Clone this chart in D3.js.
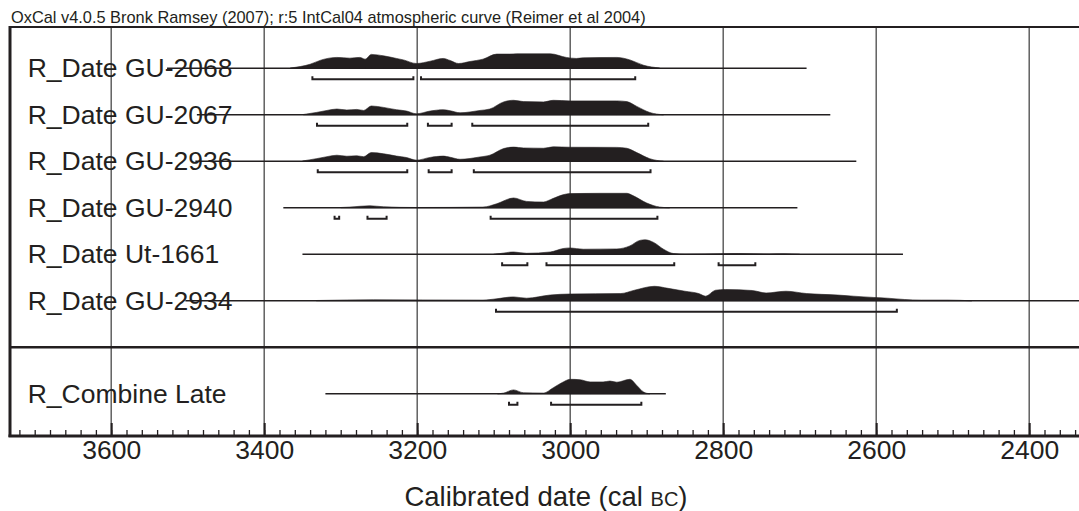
<!DOCTYPE html>
<html><head><meta charset="utf-8">
<script src="https://cdn.jsdelivr.net/npm/d3@7/dist/d3.min.js"></script>
<style>html,body{margin:0;padding:0;background:#fff;}svg{display:block;font-family:"Liberation Sans",Arial,Helvetica,sans-serif;}</style>
</head><body><svg id="c" width="1079" height="511"></svg>
<script>
// ---------- data (years cal BC, relative probability 0..1) ----------
const titleText = "OxCal v4.0.5 Bronk Ramsey (2007); r:5 IntCal04 atmospheric curve (Reimer et al 2004)";
const rowLabels = ["R_Date GU-2068","R_Date GU-2067","R_Date GU-2936","R_Date GU-2940","R_Date Ut-1661","R_Date GU-2934","","R_Combine Late"];
const majorTicks = [3600,3400,3200,3000,2800,2600,2400];
const lineStart = [3527,3488,3490,3375,3350,3503,null,3320];
const lineEnd   = [2691,2660,2626,2703,2565,2300,null,2875];

const dens_GU2068 = [[3366,0.02],[3340,0.28],[3325,0.58],[3305,0.75],[3288,0.70],[3275,0.75],[3268,0.63],[3260,0.96],[3244,0.86],[3227,0.68],[3218,0.58],[3201,0.33],[3183,0.49],[3166,0.68],[3157,0.54],[3146,0.33],[3131,0.47],[3114,0.63],[3096,0.98],[3079,0.98],[3070,1.0],[3026,1.0],[3005,0.75],[2992,0.68],[2983,0.72],[2939,0.75],[2922,0.58],[2904,0.21],[2883,0.02]];
const dens_GU2067 = [[3349,0.02],[3332,0.16],[3318,0.30],[3305,0.40],[3292,0.33],[3279,0.37],[3270,0.30],[3260,0.61],[3244,0.51],[3227,0.35],[3214,0.26],[3201,0.07],[3183,0.26],[3166,0.35],[3157,0.28],[3144,0.14],[3118,0.30],[3105,0.40],[3087,0.89],[3074,1.0],[3061,0.91],[3035,0.89],[3022,1.0],[3000,0.96],[2939,0.96],[2926,0.91],[2913,0.58],[2896,0.16],[2878,0.0]];
const dens_GU2936 = [[3350,0.02],[3332,0.18],[3318,0.32],[3305,0.42],[3292,0.35],[3279,0.38],[3270,0.32],[3260,0.60],[3244,0.52],[3227,0.36],[3214,0.26],[3201,0.08],[3183,0.27],[3166,0.36],[3157,0.28],[3144,0.14],[3118,0.30],[3105,0.42],[3087,0.88],[3074,0.98],[3061,0.92],[3035,0.90],[3022,1.0],[3000,0.97],[2939,0.96],[2926,0.90],[2913,0.60],[2896,0.18],[2878,0.0]];
const dens_GU2940 = [[3300,0.02],[3288,0.05],[3262,0.14],[3244,0.07],[3201,0.02],[3114,0.05],[3096,0.28],[3074,0.68],[3057,0.44],[3035,0.40],[3026,0.56],[3013,0.84],[3000,0.98],[2961,1.0],[2926,1.0],[2918,0.84],[2900,0.33],[2883,0.05],[2870,0.0]];
const dens_Ut1661 = [[3100,0.0],[3092,0.05],[3074,0.16],[3057,0.07],[3026,0.16],[3009,0.40],[3000,0.44],[2983,0.35],[2939,0.37],[2922,0.58],[2909,0.96],[2902,1.0],[2891,0.82],[2878,0.35],[2865,0.05],[2850,0.0],[2800,0.04],[2780,0.05],[2740,0.02],[2720,0.03],[2700,0.0]];
const dens_GU2934 = [[3332,0.02],[3257,0.07],[3114,0.05],[3096,0.14],[3074,0.27],[3057,0.18],[3026,0.40],[3000,0.47],[2934,0.50],[2916,0.73],[2890,1.0],[2872,0.86],[2850,0.66],[2832,0.50],[2823,0.32],[2810,0.73],[2797,0.78],[2762,0.71],[2744,0.54],[2718,0.66],[2691,0.50],[2651,0.40],[2630,0.32],[2603,0.23],[2585,0.18],[2563,0.09],[2541,0.05],[2506,0.05],[2475,0.0]];
const dens_Combine = [[3095,0.0],[3087,0.05],[3074,0.27],[3061,0.07],[3035,0.05],[3022,0.42],[3009,0.82],[3000,1.0],[2987,0.97],[2974,0.82],[2957,0.82],[2948,0.88],[2939,0.80],[2922,1.0],[2913,0.58],[2904,0.12],[2896,0.0]];
const densities = [dens_GU2068,dens_GU2067,dens_GU2936,dens_GU2940,dens_Ut1661,dens_GU2934,null,dens_Combine];

const ranges_GU2068 = [[3337,3205],[3195,2915]];
const ranges_GU2067 = [[3331,3213],[3186,3155],[3128,2898]];
const ranges_GU2936 = [[3330,3213],[3185,3155],[3126,2895]];
const ranges_GU2940 = [[3308,3302],[3265,3240],[3104,2886]];
const ranges_Ut1661 = [[3089,3056],[3031,2864],[2806,2758]];
const ranges_GU2934 = [[3097,2573]];
const ranges_Combine = [[3080,3069],[3025,2907]];
const ranges = [ranges_GU2068,ranges_GU2067,ranges_GU2936,ranges_GU2940,ranges_Ut1661,ranges_GU2934,null,ranges_Combine];

// ---------- layout ----------
const svg = d3.select("#c");
const frameLeft = 10, frameTop = 27, axisY = 436, sepY = 347.3, W = 1079;
const x = d3.scaleLinear().domain([3600,2400]).range([111.2,1029.2]);
const y = d3.scalePoint().domain(rowLabels.map((d,i)=>i)).range([68.3,393.8]);
const h = d3.scaleLinear().domain([0,1]).range([0,14.5]);
const ink = "#231f20";

// title
const t = svg.append("text").attr("x",11).attr("y",23).attr("font-size",14).attr("fill",ink).text(titleText);
const tl = t.node().getComputedTextLength();
t.attr("font-size", 14*635/tl);

// gridlines
svg.append("g").selectAll("line").data(majorTicks).join("line")
  .attr("x1",d=>x(d)).attr("x2",d=>x(d)).attr("y1",frameTop).attr("y2",axisY)
  .attr("stroke","#555").attr("stroke-width",1.4);

// rows
const area = d3.area().x(d=>x(d[0])).y0(0).y1(d=>-h(d[1])).curve(d3.curveMonotoneX);
rowLabels.forEach((lab,i)=>{
  if(!lab) return;
  const g = svg.append("g").attr("transform",`translate(0,${y(i)})`);
  g.append("text").attr("x",27.7).attr("y",9).attr("font-size",26.5).attr("fill",ink).text(lab);
  g.append("line").attr("x1",x(lineStart[i])).attr("x2",Math.min(W+5,x(lineEnd[i]))).attr("y1",0).attr("y2",0)
    .attr("stroke",ink).attr("stroke-width",1.5);
  g.append("path").datum(densities[i]).attr("d",area).attr("fill",ink).attr("stroke",ink).attr("stroke-width",0.6);
  g.selectAll("path.br").data(ranges[i]).join("path").attr("class","br")
    .attr("d",d=>`M${x(d[0])},8 V11 H${x(d[1])} V8`)
    .attr("fill","none").attr("stroke",ink).attr("stroke-width",2);
});

// frame
svg.append("line").attr("x1",frameLeft).attr("x2",W+5).attr("y1",frameTop).attr("y2",frameTop).attr("stroke",ink).attr("stroke-width",2.2);
svg.append("line").attr("x1",frameLeft).attr("x2",W+5).attr("y1",sepY).attr("y2",sepY).attr("stroke",ink).attr("stroke-width",2.5);
svg.append("line").attr("x1",frameLeft).attr("x2",frameLeft).attr("y1",frameTop-1).attr("y2",axisY+1).attr("stroke",ink).attr("stroke-width",3);

// axis
const minorTicks = d3.range(3720,2339,-20);
const gMinor = svg.append("g").attr("transform",`translate(0,${axisY})`)
  .call(d3.axisBottom(x).tickValues(minorTicks).tickSize(-6).tickFormat(""));
gMinor.select(".domain").remove();
gMinor.selectAll("line").attr("stroke",ink).attr("stroke-width",1.3);
const gMajor = svg.append("g").attr("transform",`translate(0,${axisY})`)
  .call(d3.axisBottom(x).tickValues(majorTicks).tickSize(-13).tickFormat(d3.format("d")));
gMajor.select(".domain").remove();
gMajor.selectAll("line").attr("stroke",ink).attr("stroke-width",2);
gMajor.selectAll("text").attr("y",23.3).attr("dy",0).attr("font-size",26.5).attr("fill",ink)
  .attr("font-family",'"Liberation Sans",Arial,sans-serif');
svg.append("line").attr("x1",frameLeft-1.5).attr("x2",W+5).attr("y1",axisY).attr("y2",axisY).attr("stroke",ink).attr("stroke-width",2.8);

// axis title
const at = svg.append("text").attr("x",546).attr("y",506).attr("text-anchor","middle").attr("font-size",27.5).attr("fill",ink);
at.append("tspan").text("Calibrated date (cal ");
at.append("tspan").attr("font-size",20).text("BC");
at.append("tspan").text(")");
</script></body></html>
